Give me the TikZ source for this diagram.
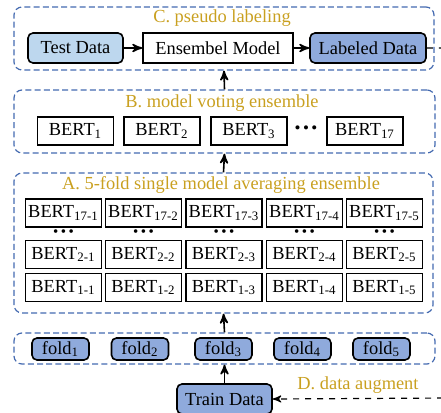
\documentclass[tikz,border=0pt]{standalone}
\usepackage{fontspec}
\setmainfont{Liberation Serif}
\usepackage{tikz}
\usetikzlibrary{arrows, positioning}
\definecolor{groupblue}{RGB}{68,106,176}
\definecolor{titlegold}{RGB}{201,160,32}
\definecolor{lightfill}{RGB}{189,215,238}
\definecolor{darkfill}{RGB}{143,170,220}
\newcommand{\threedots}{\textbullet\hspace{1.2pt}\textbullet\hspace{1.2pt}\textbullet}
\tikzset{
>=stealth', % arrow heads
every node/.style={font=\fontsize{9.2}{11}\selectfont, inner sep=0pt}, % text size
groupbox/.style={draw=groupblue, line width=0.6pt, dash pattern=on 3pt off 1.6pt, rounded corners=4pt}, % dashed frames
grouptitle/.style={text=titlegold}, % stage names
model/.style={draw, line width=0.8pt, fill=white, minimum width=38pt, minimum height=14pt}, % BERT boxes
datanode/.style={draw, line width=0.8pt, rounded corners=2.5pt, minimum width=47.5pt, minimum height=15pt}, % data boxes
foldnode/.style={draw, line width=0.8pt, rounded corners=2.5pt, fill=darkfill, minimum width=28.5pt, minimum height=11pt}, % fold boxes
dots/.style={font=\fontsize{7.5}{7.5}\selectfont}, % ellipsis
}
\begin{document}
\begin{tikzpicture}[x=0.5pt, y=-0.5pt]
      \useasboundingbox (0,0) rectangle (441,413);

      % C. pseudo labeling
      \node[groupbox, minimum width=210pt, minimum height=31.5pt] (grpC) at (224,38.5) {};
      \node[grouptitle] (titleC) at (222,18) {C. pseudo labeling};
      \node[datanode, fill=lightfill] (test) at (75.5,48) {Test Data};
      \node[model, minimum width=75pt, minimum height=15pt, rounded corners=0pt] (ensemble) at (218,48) {Ensembel Model};
      \node[datanode, fill=darkfill, minimum width=58pt] (labeled) at (368,48) {Labeled Data};

      % B. model voting ensemble
      \node[groupbox, minimum width=210.5pt, minimum height=31.5pt] (grpB) at (224.5,121.5) {};
      \node[grouptitle] (titleB) at (222,103) {B. model voting ensemble};
      \node[model] (bert1) at (75.5,131) {BERT\textsubscript{1}};
      \node[model] (bert2) at (162,131) {BERT\textsubscript{2}};
      \node[model] (bert3) at (249,131) {BERT\textsubscript{3}};
      \node[dots, font=\fontsize{8.5}{8.5}\selectfont] (bertdots) at (306,130) {\threedots};
      \node[model] (bert17) at (365,131) {BERT\textsubscript{17}};

      % A. 5-fold single model averaging ensemble
      \node[groupbox, minimum width=209.5pt, minimum height=70pt] (grpA) at (223.5,243) {};
      \node[grouptitle] (titleA) at (221,185) {A. 5-fold single model averaging ensemble};
      \foreach \k/\x in {1/63.5, 2/143.5, 3/224, 4/304.5, 5/384.5} {
        \node[model] (b17\k) at (\x,213) {BERT\textsubscript{17-\k}};
        \node[dots] (dots\k) at (\x,233) {\threedots};
        \node[model] (b2\k) at (\x,254.5) {BERT\textsubscript{2-\k}};
        \node[model] (b1\k) at (\x,287.5) {BERT\textsubscript{1-\k}};
      }

      % folds
      \node[groupbox, minimum width=210.5pt, minimum height=15.5pt] (grpF) at (224.5,348.5) {};
      \foreach \k/\x in {1/60.5, 2/140, 3/223.5, 4/302.5, 5/381.5} {
        \node[foldnode] (fold\k) at (\x,349) {fold\textsubscript{\k}};
      }

      % D. data augment
      \node[datanode, fill=darkfill] (train) at (224.5,399) {Train Data};
      \node[grouptitle] (titleD) at (358,385) {D. data augment};
      \coordinate (loopR) at (452,48);
      \coordinate (loopD) at (452,398);

      \draw[->, line width=0.8pt] (test) -- (ensemble);
      \draw[->, line width=0.8pt] (ensemble) -- (labeled);
      \draw[->, line width=0.8pt] (grpB.north) -- (grpC.south);
      \draw[->, line width=0.8pt] (grpA.north) -- (grpB.south);
      \draw[->, line width=0.8pt] (grpF.north) -- (grpA.south);
      \draw[->, line width=0.8pt] (train.north) -- (grpF.south);
      \draw[->, line width=0.6pt, dashed] (labeled.east) -- (loopR) -- (loopD) -- (train.east);
    \end{tikzpicture}
\end{document}
